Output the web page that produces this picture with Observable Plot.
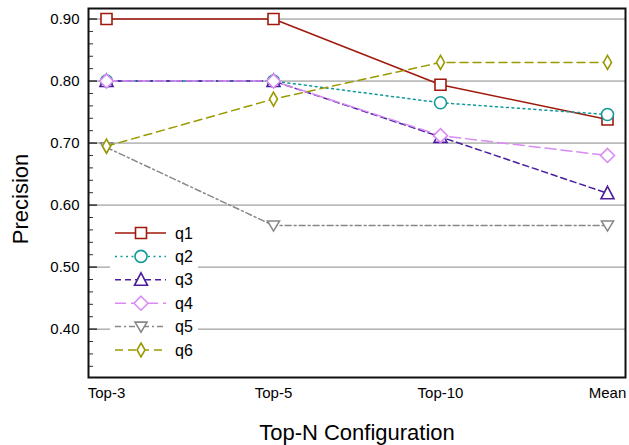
<!DOCTYPE html>
<html><head><meta charset="utf-8">
<script src="https://cdn.jsdelivr.net/npm/d3@7"></script>
<script src="https://cdn.jsdelivr.net/npm/@observablehq/plot@0.6"></script>
<style>
body{margin:0;background:#fff;font-family:"Liberation Sans",Arial,sans-serif}
#wrap{position:relative;width:629px;height:445px}
#legend{position:absolute;left:110px;top:222px}
</style>
</head><body><div id="wrap"></div>
<script>
const configs = ["Top-3", "Top-5", "Top-10", "Mean"];
const seriesNames = ["q1", "q2", "q3", "q4", "q5", "q6"];
const q1 = [0.900, 0.900, 0.794, 0.738];
const q2 = [0.800, 0.800, 0.765, 0.746];
const q3 = [0.800, 0.800, 0.710, 0.619];
const q4 = [0.800, 0.800, 0.712, 0.680];
const q5 = [0.693, 0.567, 0.567, 0.567];
const q6 = [0.695, 0.771, 0.830, 0.830];
// q5 shows no point marker at Top-10 in the reference
const q5MarkerConfigs = ["Top-3", "Top-5", "Mean"];
const yTicks = [0.40, 0.50, 0.60, 0.70, 0.80, 0.90];
const yMinorTicks = [0.34, 0.36, 0.38, 0.42, 0.44, 0.46, 0.48, 0.52, 0.54, 0.56, 0.58, 0.62, 0.64, 0.66, 0.68, 0.72, 0.74, 0.76, 0.78, 0.82, 0.84, 0.86, 0.88];
const colors = ["#a0190c", "#12999a", "#4a1e9c", "#d98af5", "#888888", "#9a9a00"];
const dashes = ["none", "2,3.5", "6,4", "11,5", "6,3,2,3", "8,5"];

const symbols = [
  {draw(c){c.moveTo(-5.5,-5.5);c.lineTo(5.5,-5.5);c.lineTo(5.5,5.5);c.lineTo(-5.5,5.5);c.closePath();}},
  {draw(c){c.moveTo(6,0);c.arc(0,0,6,0,2*Math.PI);c.closePath();}},
  {draw(c){c.moveTo(0,-7);c.lineTo(6.5,5.5);c.lineTo(-6.5,5.5);c.closePath();}},
  {draw(c){c.moveTo(0,-7);c.lineTo(7,0);c.lineTo(0,7);c.lineTo(-7,0);c.closePath();}},
  {draw(c){c.moveTo(-6,-4.5);c.lineTo(6,-4.5);c.lineTo(0,5.5);c.closePath();}},
  {draw(c){c.moveTo(0,-7);c.lineTo(4,0);c.lineTo(0,7);c.lineTo(-4,0);c.closePath();}}
];

const seriesValues = [q1, q2, q3, q4, q5, q6];
const rowsBySeries = seriesNames.map((s, i) =>
  configs.map((c, j) => ({series: s, config: c, value: seriesValues[i][j]})));

const seriesMarks = seriesNames.flatMap((s, i) => [
  Plot.line(rowsBySeries[i], {x: "config", y: "value", stroke: colors[i], strokeWidth: 1.5, strokeDasharray: dashes[i]}),
  Plot.dot(rowsBySeries[i].filter(d => s !== "q5" || q5MarkerConfigs.includes(d.config)),
    {x: "config", y: "value", stroke: colors[i], fill: "white", strokeWidth: 1.6, symbol: symbols[i], r: 5})
]);

const chart = Plot.plot({
  width: 629, height: 445,
  marginLeft: 88, marginRight: 4, marginTop: 8, marginBottom: 68,
  style: {fontFamily: "'Liberation Sans', Arial, sans-serif", background: "white", color: "black"},
  x: {type: "point", domain: configs, padding: 0.1, label: null},
  y: {domain: [0.322, 0.917], label: null},
  marks: [
    Plot.gridY(yTicks, {stroke: "#888", strokeOpacity: 1, strokeWidth: 1}),
    Plot.axisY(yMinorTicks, {tickSize: 5, dx: 5, tickFormat: () => "", label: null, stroke: "#333"}),
    Plot.axisY(yTicks, {tickSize: 9, dx: 9, tickFormat: () => "", label: null, stroke: "#333", strokeWidth: 1.5}),
    Plot.axisY(yTicks, {tickSize: 0, tickPadding: 9, tickFormat: d3.format(".2f"), fontSize: 15, label: null}),
    Plot.axisX({tickSize: 0, tickPadding: 10, fontSize: 15, label: null}),
    Plot.text(["Precision"], {frameAnchor: "left", textAnchor: "middle", dx: -68, dy: 6, rotate: -90, fontSize: 22}),
    Plot.text(["Top-N Configuration"], {frameAnchor: "bottom", lineAnchor: "middle", dy: 55, fontSize: 22}),
    ...seriesMarks,
    Plot.frame({stroke: "#111", strokeWidth: 2})
  ]
});
document.getElementById("wrap").appendChild(chart);

// legend overlay
const lg = d3.select("#wrap").append("svg").attr("id", "legend")
  .attr("width", 88).attr("height", 140)
  .style("background", "white");
const entryY = (i) => 11 + i * 23.4;
seriesNames.forEach((s, i) => {
  const g = lg.append("g").attr("transform", `translate(0,${entryY(i)})`);
  g.append("line").attr("x1", 5).attr("x2", 56).attr("y1", 0).attr("y2", 0)
    .attr("stroke", colors[i]).attr("stroke-width", 1.5)
    .attr("stroke-dasharray", dashes[i]);
  g.append("path").attr("transform", "translate(31,0)")
    .attr("d", d3.symbol(symbols[i])())
    .attr("fill", "white").attr("stroke", colors[i]).attr("stroke-width", 1.6);
  g.append("text").attr("x", 65).attr("y", 0).attr("dy", "0.35em")
    .attr("font-size", 16).attr("font-family", "'Liberation Sans', Arial, sans-serif")
    .text(s);
});
</script>
</body></html>
